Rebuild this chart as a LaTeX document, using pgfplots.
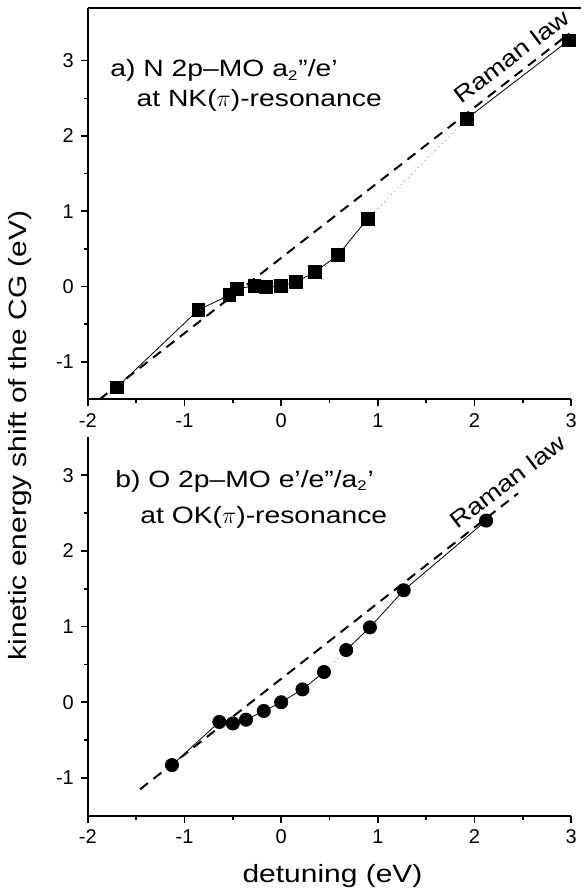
\documentclass[border=0pt]{standalone}
\usepackage{fontspec}
\setmainfont{Liberation Sans}[FakeStretch=1.2]
\newfontfamily\tickfont{Liberation Sans}
\usepackage{pgfplots}
\pgfplotsset{compat=1.18}
\begin{document}
\begin{tikzpicture}
\tikzset{
  annot/.style={anchor=west, font=\fontsize{11.8}{13}\selectfont, inner sep=0pt},
  ramanlbl/.style={rotate=37, font=\fontsize{11.5}{13}\selectfont, inner sep=0pt},
}
\pgfplotsset{
  panel/.style={
    scale only axis,
    width=242pt,
    xmin=-2, xmax=3,
    xtick={-2,-1,0,1,2,3},
    ytick={-1,0,1,2,3},
    minor tick num=1,
    axis x line=bottom,
    axis y line=left,
    axis line style={line width=1pt,-},
    tick align=outside,
    major tick length=3.5pt,
    minor tick length=2pt,
    every tick/.style={black, line width=0.8pt},
    tick label style={font=\tickfont\fontsize{10}{11}\selectfont},
    /pgf/number format/assume math mode=true,
    clip=false,
  },
  raman/.style={black, line width=1pt, dash pattern=on 5pt off 3.5pt},
  conn/.style={black, line width=0.4pt},
  connd/.style={gray, line width=0.4pt, dotted},
}
% ---------- panel a ----------
\begin{axis}[panel, name=top, at={(0,0)}, anchor=south west,
  height=196pt, ymin=-1.5, ymax=3.7]
\addplot[raman] coordinates {(-1.88,-1.5) (2.98,3.36)};
\addplot[conn] coordinates {
(-1.70,-1.34) (-0.856,-0.31) (-0.536,-0.115) (-0.457,-0.035) (-0.278,0.013)
(-0.158,-0.005) (-0.003,0.004) (0.15,0.057) (0.347,0.19) (0.59,0.42) (0.894,0.90)};
\addplot[connd] coordinates {(0.894,0.90) (1.92,2.23)};
\addplot[conn] coordinates {(1.92,2.23) (2.976,3.27)};
\addplot[only marks, mark=square*, mark size=3.2pt, black] coordinates {
(-1.70,-1.34) (-0.856,-0.31) (-0.536,-0.115) (-0.457,-0.035) (-0.278,0.013)
(-0.158,-0.005) (-0.003,0.004) (0.15,0.057) (0.347,0.19) (0.59,0.42) (0.894,0.90)
(1.92,2.23) (2.976,3.27)};
\draw[line width=1pt] (rel axis cs:0,1) -- (rel axis cs:1.02,1);
\node[annot] at (axis cs:-1.77,2.87) {a) N 2p--MO a\textsubscript{\scriptsize 2}''/e'};
\node[annot] at (axis cs:-1.50,2.47) {at NK($\pi$)-resonance};
\node[ramanlbl] at (axis cs:2.38,3.06) {Raman law};
\end{axis}
% ---------- panel b ----------
\begin{axis}[panel, name=bot, at={(0,-19pt)}, anchor=north west,
  height=189.5pt, ymin=-1.5, ymax=3.5]
\addplot[raman] coordinates {(-1.46,-1.15) (2.45,2.76)};
\addplot[conn] coordinates {
(-1.13,-0.83) (-0.64,-0.26) (-0.50,-0.28) (-0.364,-0.23) (-0.18,-0.115)
(0.0,0.0) (0.22,0.17) (0.443,0.40)};
\addplot[connd] coordinates {(0.443,0.40) (0.673,0.69)};
\addplot[conn] coordinates {(0.673,0.69) (0.918,0.99) (1.268,1.48) (2.12,2.40)};
\addplot[only marks, mark=*, mark size=3.3pt, black] coordinates {
(-1.13,-0.83) (-0.64,-0.26) (-0.50,-0.28) (-0.364,-0.23) (-0.18,-0.115)
(0.0,0.0) (0.22,0.17) (0.443,0.40) (0.673,0.69) (0.918,0.99) (1.268,1.48) (2.12,2.40)};
\node[annot] at (axis cs:-1.72,2.92) {b) O 2p--MO e'/e''/a\textsubscript{\scriptsize 2}'};
\node[annot] at (axis cs:-1.46,2.44) {at OK($\pi$)-resonance};
\node[ramanlbl] at (axis cs:2.34,2.92) {Raman law};
\end{axis}
% ---------- shared labels ----------
\node[rotate=90, font=\fontsize{12.5}{14}\selectfont] at (-34pt,-18pt) {kinetic energy shift of the CG (eV)};
\node[font=\fontsize{12.5}{14}\selectfont] at (122.5pt,-238.5pt) {detuning (eV)};
\path[use as bounding box] (-44pt,200pt) rectangle (248pt,-247pt);
\end{tikzpicture}
\end{document}
